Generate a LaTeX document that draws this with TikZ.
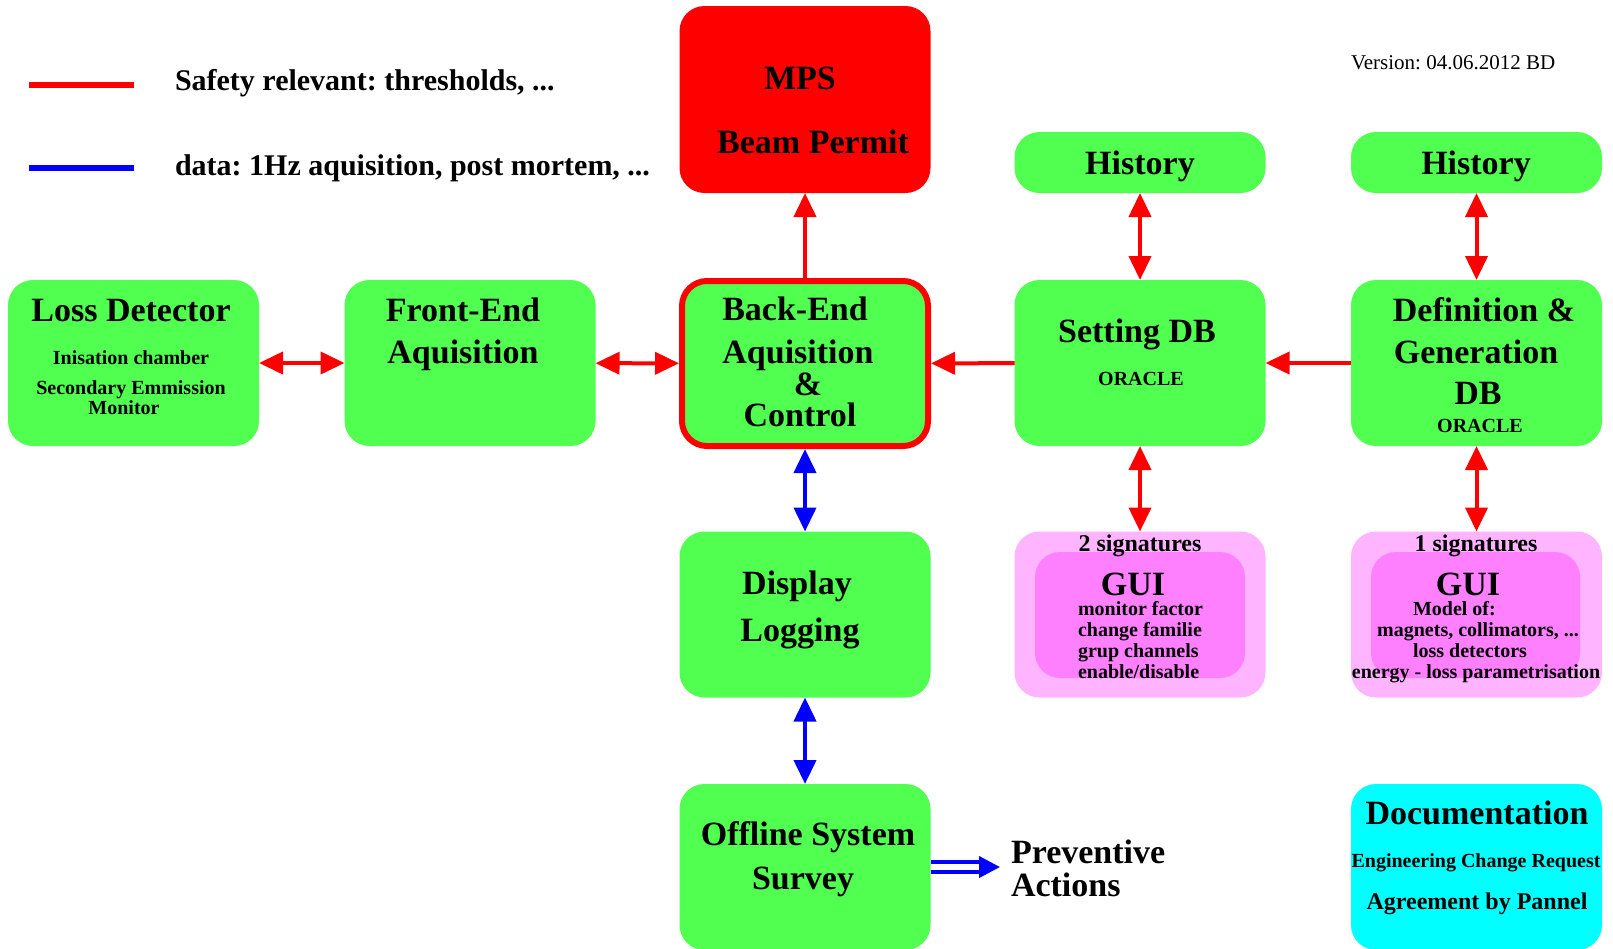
\documentclass[tikz,border=0pt]{standalone}
\usepackage{fontspec}
\setmainfont{Liberation Serif}
\frenchspacing
\usetikzlibrary{arrows.meta}
\tikzset{
  every node/.style={inner sep=0pt, outer sep=0pt},
  box/.style={rectangle, rounded corners=25pt, fill=boxgreen, minimum width=251pt, minimum height=166pt},
  headbox/.style={box, minimum height=61pt},
  guibox/.style={box, fill=guiouter},
  guicore/.style={rectangle, rounded corners=25pt, fill=guiinner, minimum width=210pt, minimum height=126pt},
  bigtext/.style={anchor=base, font=\fontsize{34}{40}\selectfont\bfseries},
  midtext/.style={anchor=base, font=\fontsize{24}{28}\selectfont\bfseries},
  smalltext/.style={anchor=base, font=\fontsize{20}{24}\selectfont\bfseries},
  legendtext/.style={anchor=base west, font=\fontsize{30}{36}\selectfont\bfseries},
  link/.style={line width=4pt},
}

\begin{document}
\begin{tikzpicture}[x=1pt, y=-1pt, >={Triangle[length=24pt,width=22pt]}]
  % Fixed frame, pixel units from the top left corner.
  \path[use as bounding box] (0,0) rectangle (1613,948);

  % Colors.
  \definecolor{boxgreen}{RGB}{80,255,80}
  \definecolor{guiouter}{RGB}{255,180,255}
  \definecolor{guiinner}{RGB}{255,128,255}
  \definecolor{doccyan}{RGB}{0,255,255}
  \colorlet{safetycol}{red}
  \colorlet{datacol}{blue}

  % Legend.
  \coordinate (redA) at (29,85);
  \coordinate (redB) at (134,85);
  \coordinate (blueA) at (29,168);
  \coordinate (blueB) at (134,168);
  \draw[safetycol, line width=6pt] (redA) -- (redB);
  \draw[datacol, line width=6pt] (blueA) -- (blueB);
  \node[legendtext] (safety) at (175,90) {Safety relevant: thresholds, ...};
  \node[legendtext] (data) at (175,175) {data: 1Hz aquisition, post mortem, ...};
  \node[anchor=base west, font=\fontsize{21}{25}\selectfont] (version) at (1351,69) {Version: 04.06.2012 BD};

  % Boxes.
  \node[box, fill=red, minimum height=187pt] (mps) at (805,99.5) {};
  \node[headbox] (hist1) at (1140,162.5) {};
  \node[headbox] (hist2) at (1476.5,162.5) {};
  \node[box] (loss) at (133.5,363) {};
  \node[box] (front) at (470,363) {};
  \node[box, draw=red, line width=6pt, outer sep=3pt, minimum width=246pt, minimum height=165pt] (back) at (805,363.5) {};
  \node[box] (setting) at (1140,363) {};
  \node[box] (defdb) at (1476.5,363) {};
  \node[box] (display) at (805,614.5) {};
  \node[guibox] (gui1) at (1140,614.5) {};
  \node[guicore] (core1) at (1140,615) {};
  \node[guibox] (gui2) at (1476.5,614.5) {};
  \node[guicore, minimum width=209pt] (core2) at (1475.5,615) {};
  \node[box] (offline) at (805,867) {};
  \node[box, fill=doccyan] (doc) at (1476.5,867) {};

  % Texts.
  \node[bigtext] (mpsT) at (800,89) {MPS};
  \node[bigtext] (mpsB) at (813,153) {Beam Permit};
  \node[bigtext] (hist1T) at (1140,174) {History};
  \node[bigtext] (hist2T) at (1476,174) {History};

  \node[bigtext] (lossT) at (131,321) {Loss Detector};
  \node[smalltext] (lossA) at (131,364) {Inisation chamber};
  \node[smalltext] (lossB) at (131,394) {Secondary Emmission};
  \node[smalltext] (lossC) at (124,414) {Monitor};

  \node[bigtext] (frontT) at (463,321) {Front-End};
  \node[bigtext] (frontB) at (463,363) {Aquisition};

  \node[bigtext] (backT) at (795,320) {Back-End};
  \node[bigtext] (backB) at (798,363) {Aquisition};
  \node[bigtext] (backC) at (808,395) {\&};
  \node[bigtext] (backD) at (800,426) {Control};

  \node[bigtext] (settingT) at (1137,342) {Setting DB};
  \node[smalltext] (settingB) at (1141,385) {ORACLE};

  \node[bigtext] (defT) at (1484,321) {Definition \&};
  \node[bigtext] (defB) at (1476,363) {Generation};
  \node[bigtext] (defC) at (1478,404) {DB};
  \node[smalltext] (defD) at (1480,432) {ORACLE};

  \node[bigtext] (displayT) at (797,594) {Display};
  \node[bigtext] (displayB) at (800,641) {Logging};

  \node[midtext] (sign1) at (1140,551) {2 signatures};
  \node[bigtext] (gui1T) at (1133,595) {GUI};
  \node[smalltext, anchor=base west] (gui1A) at (1078,615) {monitor factor};
  \node[smalltext, anchor=base west] (gui1B) at (1078,636) {change familie};
  \node[smalltext, anchor=base west] (gui1C) at (1078,657) {grup channels};
  \node[smalltext, anchor=base west] (gui1D) at (1078,678) {enable/disable};

  \node[midtext] (sign2) at (1476,551) {1 signatures};
  \node[bigtext] (gui2T) at (1468,595) {GUI};
  \node[smalltext, anchor=base west] (gui2A) at (1413,615) {Model of:};
  \node[smalltext] (gui2B) at (1478,636) {magnets, collimators, ...};
  \node[smalltext] (gui2C) at (1470,657) {loss detectors};
  \node[smalltext] (gui2D) at (1476,678) {energy - loss parametrisation};

  \node[bigtext] (offlineT) at (808,845) {Offline System};
  \node[bigtext] (offlineB) at (803,889) {Survey};
  \node[bigtext, anchor=base west] (prevT) at (1011,863) {Preventive};
  \node[bigtext, anchor=base west] (prevB) at (1011,896) {Actions};

  \node[bigtext] (docT) at (1477,824) {Documentation};
  \node[smalltext] (docA) at (1476,867) {Engineering Change Request};
  \node[midtext] (docB) at (1477,909) {Agreement by Pannel};

  % Safety links.
  \draw[link, safetycol, <->] (loss) -- (front);
  \draw[link, safetycol, <->] (front) -- (back);
  \draw[link, safetycol, ->] (setting) -- (back);
  \draw[link, safetycol, ->] (defdb) -- (setting);
  \draw[link, safetycol, ->] (back) -- (mps);
  \draw[link, safetycol, <->] (hist1) -- (setting);
  \draw[link, safetycol, <->] (hist2) -- (defdb);
  \draw[link, safetycol, <->] (setting) -- (gui1);
  \draw[link, safetycol, <->] (defdb) -- (gui2);

  % Data links.
  \draw[link, datacol, <->] (back) -- (display);
  \draw[link, datacol, <->] (display) -- (offline);
  \coordinate (prevtip) at (1000,867);
  \draw[datacol, line width=4pt, double=white, double distance=6pt,
    -{Triangle[length=21pt,width=21pt]}] (offline) -- (prevtip);
\end{tikzpicture}
\end{document}
